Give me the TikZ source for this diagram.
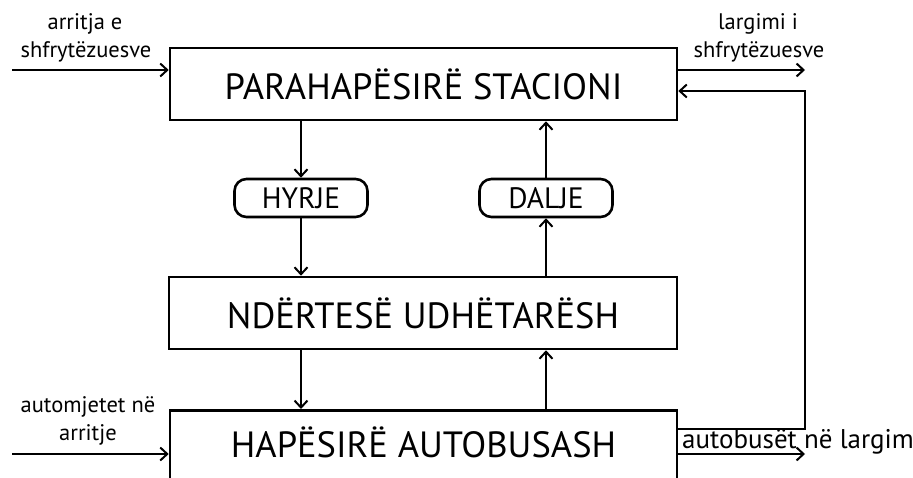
\documentclass[tikz,border=0pt]{standalone}
\usepackage{fontspec}
\setmainfont{PT Sans}
\usetikzlibrary{arrows.meta,positioning}
\tikzset{
  box/.style={draw, line width=2.6pt, rectangle, inner sep=0pt},
  bigtext/.style={font=\fontsize{36.5}{40}\selectfont, inner sep=0pt},
  pill/.style={draw, line width=2.6pt, rounded corners=12pt, inner sep=0pt, minimum width=133pt, minimum height=38pt, font=\fontsize{29.5}{32}\selectfont},
  lbl/.style={font=\fontsize{22.5}{24}\selectfont, inner sep=0pt},
  arr/.style={line width=2.6pt, -{Straight Barb[length=7pt,width=13pt,line width=2pt]}},
  ln/.style={line width=2.6pt}
}
\begin{document}
\begin{tikzpicture}[x=1pt,y=-1pt]
\clip (0,0) rectangle (913,478);
\fill[white] (0,0) rectangle (913,478);
% boxes
\node[box, minimum width=507pt, minimum height=72pt] (top) at (423.5,84) {};
\node[bigtext] (toptext) at (423.5,84) {PARAHAPËSIRË STACIONI};
\node[box, minimum width=508pt, minimum height=72pt] (mid) at (423,313) {};
\node[bigtext] (midtext) at (423,313) {NDËRTESË UDHËTARËSH};
\node[box, minimum width=507pt, minimum height=120pt, anchor=north] (bus) at (423.5,409) {};
\node[bigtext] (bustext) at (423.5,442) {HAPËSIRË AUTOBUSASH};
% pills
\node[pill] (hy) at (301,198) {HYRJE};
\node[pill] (da) at (546,198) {DALJE};
% vertical connectors
\draw[arr] (top.south -| hy) -- (hy.north);
\draw[arr] (hy.south) -- (mid.north -| hy);
\draw[arr] (mid.north -| da) -- (da.south);
\draw[arr] (da.north) -- (top.south -| da);
\draw[arr] (mid.south -| hy) -- (bus.north -| hy);
\draw[arr] (bus.north -| da) -- (mid.south -| da);
% side coordinates
\coordinate (inL1) at (12,70);
\coordinate (outR1) at (805,70);
\coordinate (inL2) at (12,454);
\coordinate (outR2) at (805,454);
\coordinate (fbA) at (805,429);
\coordinate (fbB) at (805,91);
\draw[arr] (inL1) -- (inL1 -| top.west);
\draw[arr] (top.east |- outR1) -- (outR1);
\draw[arr] (inL2) -- (inL2 -| bus.west);
\draw[arr] (bus.east |- outR2) -- (outR2);
\draw[arr] (bus.east |- fbA) -- (fbA) -- (fbB) -- (fbB -| top.east);
% labels
\node[lbl] (l1a) at (85,24) {arritja e};
\node[lbl] (l1b) at (86,52) {shfrytëzuesve};
\node[lbl] (r1a) at (758,24) {largimi i};
\node[lbl] (r1b) at (759,52) {shfrytëzuesve};
\node[lbl] (l2a) at (88,407) {automjetet në};
\node[lbl] (l2b) at (88,435) {arritje};
\node[lbl, anchor=west, font=\fontsize{27}{30}\selectfont] (r2) at (682,442) {autobusët në largim};
\end{tikzpicture}
\end{document}
